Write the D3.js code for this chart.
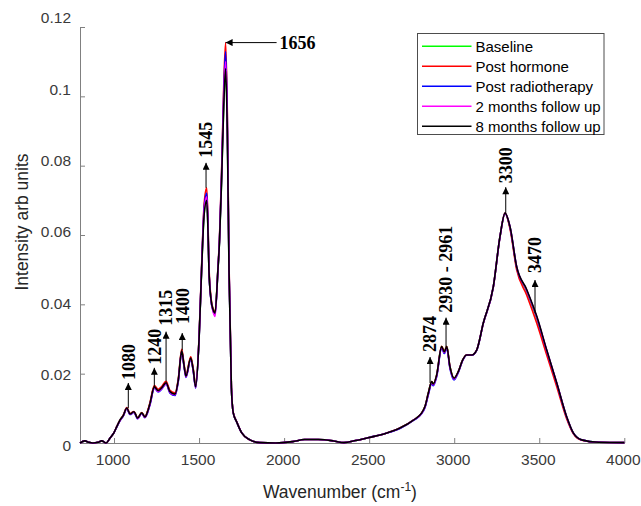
<!DOCTYPE html>
<html>
<head>
<meta charset="utf-8">
<script src="https://cdnjs.cloudflare.com/ajax/libs/d3/7.8.5/d3.min.js"></script>
<style>
    body { margin: 0; background: #fff; }
    svg { display: block; }
    .tick text { font-family: "Liberation Sans", Arial, sans-serif; font-size: 15.5px; fill: #3a3a3a; }
</style>
</head>
<body>
<div id="chart"></div>
<script>
// wavenumber grid (cm-1), shared by all spectra
const wavenumbers = [
    800, 829, 852, 876, 905, 928, 953, 976, 1000, 1016,
    1035, 1055, 1075, 1094, 1117, 1139, 1163, 1182, 1197, 1212,
    1237, 1260, 1280, 1306, 1329, 1359, 1378, 1398, 1410, 1423,
    1451, 1466, 1480, 1500, 1515, 1530, 1545, 1552, 1558, 1570,
    1582, 1594, 1611, 1620, 1632, 1645, 1656, 1666, 1676, 1690,
    1701, 1721, 1751, 1799, 1858, 1950, 2050, 2120, 2200, 2290,
    2352, 2420, 2500, 2600, 2681, 2760, 2809, 2828, 2848, 2868,
    2877, 2897, 2926, 2942, 2956, 2975, 2999, 3024, 3050, 3073,
    3103, 3132, 3171, 3230, 3269, 3299, 3328, 3367, 3426, 3485,
    3544, 3603, 3661, 3700, 3749, 3850, 4000
];

const baseline = [
    0.0000, 0.0006, 0.0002, 0.0000, 0.0002, 0.0006, 0.0000, 0.0014, 0.0030, 0.0047,
    0.0066, 0.0080, 0.0101, 0.0084, 0.0090, 0.0072, 0.0087, 0.0075, 0.0090, 0.0115,
    0.0162, 0.0151, 0.0159, 0.0174, 0.0148, 0.0141, 0.0182, 0.0266, 0.0230, 0.0193,
    0.0245, 0.0210, 0.0162, 0.0300, 0.0500, 0.0662, 0.0705, 0.0622, 0.0500, 0.0415,
    0.0385, 0.0375, 0.0500, 0.0580, 0.0752, 0.0975, 0.1085, 0.0905, 0.0500, 0.0160,
    0.0087, 0.0061, 0.0029, 0.0009, 0.0001, 0.0000, 0.0004, 0.0010, 0.0010, 0.0006,
    0.0001, 0.0007, 0.0016, 0.0028, 0.0043, 0.0066, 0.0087, 0.0105, 0.0144, 0.0177,
    0.0170, 0.0196, 0.0278, 0.0263, 0.0278, 0.0220, 0.0187, 0.0206, 0.0240, 0.0254,
    0.0254, 0.0268, 0.0346, 0.0451, 0.0595, 0.0663, 0.0622, 0.0506, 0.0438, 0.0360,
    0.0263, 0.0170, 0.0075, 0.0029, 0.0009, 0.0002, 0.0001
];

const post_hormone = [
    0.0000, 0.0006, 0.0002, 0.0000, 0.0002, 0.0006, 0.0000, 0.0014, 0.0030, 0.0047,
    0.0066, 0.0081, 0.0102, 0.0085, 0.0091, 0.0073, 0.0088, 0.0076, 0.0092, 0.0118,
    0.0166, 0.0155, 0.0163, 0.0178, 0.0152, 0.0145, 0.0186, 0.0270, 0.0234, 0.0197,
    0.0249, 0.0214, 0.0166, 0.0305, 0.0510, 0.0690, 0.0736, 0.0650, 0.0515, 0.0420,
    0.0388, 0.0378, 0.0505, 0.0590, 0.0775, 0.1030, 0.1155, 0.0960, 0.0520, 0.0165,
    0.0088, 0.0062, 0.0029, 0.0009, 0.0001, 0.0000, 0.0004, 0.0010, 0.0010, 0.0006,
    0.0001, 0.0007, 0.0016, 0.0028, 0.0043, 0.0066, 0.0087, 0.0105, 0.0144, 0.0177,
    0.0170, 0.0196, 0.0279, 0.0264, 0.0279, 0.0220, 0.0187, 0.0206, 0.0240, 0.0254,
    0.0254, 0.0268, 0.0345, 0.0450, 0.0594, 0.0663, 0.0618, 0.0500, 0.0427, 0.0346,
    0.0254, 0.0162, 0.0070, 0.0027, 0.0008, 0.0002, 0.0001
];

const post_radiotherapy = [
    0.0000, 0.0006, 0.0002, 0.0000, 0.0002, 0.0006, 0.0000, 0.0014, 0.0030, 0.0046,
    0.0064, 0.0078, 0.0099, 0.0082, 0.0088, 0.0070, 0.0085, 0.0073, 0.0087, 0.0111,
    0.0158, 0.0147, 0.0155, 0.0170, 0.0144, 0.0137, 0.0178, 0.0262, 0.0226, 0.0189,
    0.0241, 0.0206, 0.0158, 0.0300, 0.0505, 0.0680, 0.0721, 0.0640, 0.0505, 0.0412,
    0.0382, 0.0370, 0.0502, 0.0585, 0.0765, 0.1010, 0.1129, 0.0940, 0.0510, 0.0160,
    0.0087, 0.0061, 0.0029, 0.0009, 0.0001, 0.0000, 0.0004, 0.0010, 0.0010, 0.0006,
    0.0001, 0.0007, 0.0016, 0.0028, 0.0042, 0.0065, 0.0085, 0.0102, 0.0139, 0.0172,
    0.0165, 0.0191, 0.0273, 0.0258, 0.0273, 0.0215, 0.0182, 0.0203, 0.0238, 0.0253,
    0.0253, 0.0267, 0.0345, 0.0450, 0.0594, 0.0662, 0.0623, 0.0508, 0.0440, 0.0363,
    0.0266, 0.0172, 0.0075, 0.0029, 0.0009, 0.0002, 0.0001
];

const follow_up_2m = [
    0.0000, 0.0006, 0.0002, 0.0000, 0.0002, 0.0006, 0.0000, 0.0014, 0.0030, 0.0047,
    0.0065, 0.0079, 0.0100, 0.0083, 0.0089, 0.0071, 0.0086, 0.0074, 0.0088, 0.0113,
    0.0160, 0.0149, 0.0157, 0.0172, 0.0146, 0.0139, 0.0180, 0.0264, 0.0228, 0.0191,
    0.0243, 0.0208, 0.0160, 0.0300, 0.0502, 0.0670, 0.0710, 0.0630, 0.0502, 0.0413,
    0.0380, 0.0365, 0.0500, 0.0582, 0.0760, 0.0990, 0.1100, 0.0920, 0.0505, 0.0160,
    0.0087, 0.0061, 0.0029, 0.0009, 0.0001, 0.0000, 0.0004, 0.0010, 0.0010, 0.0006,
    0.0001, 0.0007, 0.0016, 0.0028, 0.0043, 0.0066, 0.0086, 0.0104, 0.0142, 0.0175,
    0.0168, 0.0194, 0.0276, 0.0261, 0.0276, 0.0218, 0.0185, 0.0205, 0.0239, 0.0254,
    0.0254, 0.0268, 0.0346, 0.0451, 0.0595, 0.0663, 0.0624, 0.0509, 0.0441, 0.0364,
    0.0267, 0.0173, 0.0076, 0.0029, 0.0009, 0.0002, 0.0001
];

const follow_up_8m = [
    0.0000, 0.0006, 0.0002, 0.0000, 0.0002, 0.0006, 0.0000, 0.0014, 0.0030, 0.0047,
    0.0066, 0.0080, 0.0101, 0.0084, 0.0090, 0.0072, 0.0087, 0.0075, 0.0090, 0.0115,
    0.0162, 0.0151, 0.0159, 0.0174, 0.0148, 0.0141, 0.0182, 0.0266, 0.0230, 0.0193,
    0.0245, 0.0210, 0.0162, 0.0300, 0.0500, 0.0660, 0.0700, 0.0620, 0.0500, 0.0415,
    0.0385, 0.0375, 0.0500, 0.0580, 0.0750, 0.0970, 0.1080, 0.0900, 0.0500, 0.0160,
    0.0087, 0.0061, 0.0029, 0.0009, 0.0001, 0.0000, 0.0004, 0.0010, 0.0010, 0.0006,
    0.0001, 0.0007, 0.0016, 0.0028, 0.0043, 0.0066, 0.0087, 0.0105, 0.0144, 0.0177,
    0.0170, 0.0196, 0.0278, 0.0263, 0.0278, 0.0220, 0.0187, 0.0206, 0.0240, 0.0254,
    0.0254, 0.0268, 0.0346, 0.0451, 0.0595, 0.0663, 0.0624, 0.0509, 0.0443, 0.0366,
    0.0268, 0.0173, 0.0076, 0.0029, 0.0009, 0.0002, 0.0001
];

const series_names = ["Baseline", "Post hormone", "Post radiotherapy", "2 months follow up", "8 months follow up"];
const series_values = [baseline, post_hormone, post_radiotherapy, follow_up_2m, follow_up_8m];
const series_colors = ["#00ff00", "#ff0000", "#0000ff", "#ff00ff", "#000000"];

const x_ticks = [1000, 1500, 2000, 2500, 3000, 3500, 4000];
const y_ticks = [0, 0.02, 0.04, 0.06, 0.08, 0.1, 0.12];

// peak annotations: label, wavenumber of arrow, intensity at arrow foot
const peak_labels = ["1080", "1240", "1315", "1400", "1545", "2874", "2930 - 2961", "3300", "3470"];
const peak_wn = [1084, 1237, 1306, 1401, 1541, 2858, 2952, 3303, 3475];
const peak_value = [0.0101, 0.0162, 0.0177, 0.0268, 0.0736, 0.0173, 0.0278, 0.0663, 0.0375];
const amide_label = "1656";
const amide_wn = 1656;
const amide_value = 0.1155;

// layout (px): arrow length and gap between arrow tip and text
const arrow_len = [25, 19, 50, 17, 25, 26, 29, 26, 33];
const text_gap = [3, 3, 6, 9, 5, 5, 5, 4, 7];

const width = 641, height = 506;
const plot = {left: 80, right: 624.3, top: 27, bottom: 443};

const svg = d3.select("#chart")
    .append("svg")
    .attr("width", width)
    .attr("height", height);

svg.append("defs").append("marker")
    .attr("id", "head")
    .attr("markerUnits", "userSpaceOnUse")
    .attr("viewBox", "0 0 10 10")
    .attr("refX", 10)
    .attr("refY", 5)
    .attr("markerWidth", 8)
    .attr("markerHeight", 7)
    .attr("orient", "auto")
    .append("path")
    .attr("d", "M0,0 L10,5 L0,10 Z")
    .attr("fill", "#000");

var xScale = d3.scaleLinear().domain([800, 4000]).range([plot.left, plot.right]);
var yScale = d3.scaleLinear().domain([0, 0.12]).range([plot.bottom, plot.top]);
// tick labels sit a bit off the ticks in the original export
var yLabelScale = d3.scaleLinear().domain([0, 0.12]).range([446, 18]);

/* осі */
var xAxis = svg.append("g")
    .attr("transform", "translate(0," + plot.bottom + ")")
    .call(d3.axisBottom(xScale).tickValues(x_ticks).tickSizeInner(-5).tickSizeOuter(0).tickPadding(11)
        .tickFormat(d3.format("d")));

var yAxis = svg.append("g")
    .attr("transform", "translate(" + plot.left + ",0)")
    .call(d3.axisLeft(yScale).tickValues(y_ticks).tickSizeInner(-5).tickSizeOuter(0).tickPadding(9)
        .tickFormat(function(d){ return d === 0 ? "0" : String(+d.toFixed(2)); }));

yAxis.selectAll(".tick text")
    .attr("y", function(d){ return yLabelScale(d) - yScale(d); });
xAxis.selectAll(".tick text").attr("x", -1.5);

svg.selectAll(".domain, .tick line").attr("stroke", "#808080");

/* спектри */
var line = d3.line()
    .x(function(d){ return xScale(d[0]); })
    .y(function(d){ return yScale(d[1]); })
    .curve(d3.curveMonotoneX);

svg.append("g").selectAll("path")
    .data(series_values)
    .enter().append("path")
    .attr("d", function(vals){ return line(wavenumbers.map(function(w, i){ return [w, vals[i]]; })); })
    .attr("fill", "none")
    .attr("stroke", function(d, i){ return series_colors[i]; })
    .attr("stroke-width", 1.6)
    .attr("stroke-linejoin", "round");

/* підписи піків */
var ann = svg.append("g");
peak_labels.forEach(function(label, i){
    var x = xScale(peak_wn[i]);
    var y0 = yScale(peak_value[i]);
    var y1 = y0 - arrow_len[i];
    ann.append("line")
        .attr("x1", x).attr("y1", y0)
        .attr("x2", x).attr("y2", y1)
        .attr("stroke", "#000")
        .attr("stroke-width", 1)
        .attr("marker-end", "url(#head)");
    ann.append("text")
        .attr("transform", "translate(" + x + "," + (y1 - text_gap[i]) + ") rotate(-90)")
        .attr("dy", "0.35em")
        .attr("font-family", "'Liberation Serif', 'Times New Roman', serif")
        .attr("font-weight", "bold")
        .attr("font-size", "18px")
        .text(label);
});

var ax = xScale(amide_wn), ay = yScale(amide_value);
ann.append("line")
    .attr("x1", ax + 51).attr("y1", ay)
    .attr("x2", ax).attr("y2", ay)
    .attr("stroke", "#000")
    .attr("stroke-width", 1)
    .attr("marker-end", "url(#head)");
ann.append("text")
    .attr("x", ax + 54)
    .attr("y", ay)
    .attr("dy", "0.35em")
    .attr("font-family", "'Liberation Serif', 'Times New Roman', serif")
    .attr("font-weight", "bold")
    .attr("font-size", "18px")
    .text(amide_label);

/* назви осей */
svg.append("text")
    .attr("x", 263)
    .attr("y", 498)
    .attr("font-family", "'Liberation Sans', Arial, sans-serif")
    .attr("font-size", "17.5px")
    .attr("fill", "#262626")
    .text("Wavenumber (cm")
    .call(function(t){
        t.append("tspan").attr("dy", -7).attr("font-size", "12px").text("-1");
        t.append("tspan").attr("dy", 7).text(")");
    });

svg.append("text")
    .attr("transform", "translate(28,222) rotate(-90)")
    .attr("text-anchor", "middle")
    .attr("font-family", "'Liberation Sans', Arial, sans-serif")
    .attr("font-size", "17.5px")
    .attr("fill", "#262626")
    .text("Intensity arb units");

/* легенда */
var legend = svg.append("g").attr("transform", "translate(417.5,33.5)");
legend.append("rect")
    .attr("width", 186.5)
    .attr("height", 101)
    .attr("fill", "#fff")
    .attr("stroke", "#4d4d4d")
    .attr("stroke-width", 1);

var rows = legend.selectAll(".row")
    .data(series_names)
    .enter().append("g")
    .attr("class", "row")
    .attr("transform", function(d, i){ return "translate(0," + (12.8 + 20 * i) + ")"; });

rows.append("line")
    .attr("x1", 4.5).attr("x2", 54)
    .attr("stroke", function(d, i){ return series_colors[i]; })
    .attr("stroke-width", 1.6);

rows.append("text")
    .attr("x", 58)
    .attr("dy", "0.35em")
    .attr("font-family", "'Liberation Sans', Arial, sans-serif")
    .attr("font-size", "15px")
    .attr("fill", "#000")
    .text(function(d){ return d; });
</script>
</body>
</html>
